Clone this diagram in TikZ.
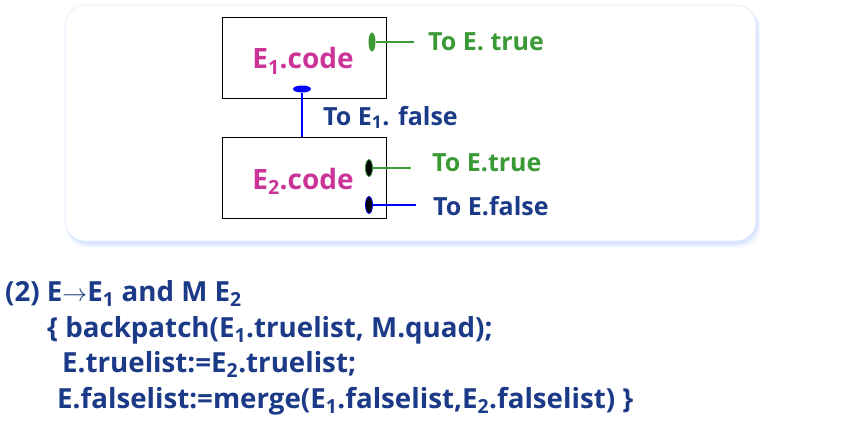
\documentclass[tikz,border=0pt]{standalone}
\usepackage{fontspec}
\setmainfont{Open Sans}
\usetikzlibrary{shapes.geometric}
\definecolor{navy}{HTML}{1B3A87}
\definecolor{leaf}{HTML}{3A9A35}
\definecolor{rose}{HTML}{CC3399}
\definecolor{glow}{HTML}{C9D9FF}
\newcommand{\sbs}[1]{\textsubscript{#1}}
\tikzset{
  codebox/.style={draw=black, line width=1pt, minimum width=164pt, minimum height=81pt, anchor=north west, inner sep=0pt},
  boxlabel/.style={text=rose, font=\bfseries\fontsize{28}{28}\selectfont, anchor=base, inner sep=0pt},
  sidelabel/.style={font=\bfseries\fontsize{25}{25}\selectfont, anchor=base west, inner sep=0pt},
  codeline/.style={text=navy, font=\bfseries\fontsize{27.7}{27.7}\selectfont, anchor=base west, inner sep=0pt},
  vport/.style={ellipse, minimum width=7pt, minimum height=19pt, inner sep=0pt},
  hport/.style={ellipse, minimum width=18pt, minimum height=7pt, inner sep=0pt},
  wire/.style={line width=1.2pt},
}
\begin{document}
\begin{tikzpicture}[x=1pt, y=-1pt]
\useasboundingbox (0,0) rectangle (846,436);
\fill[white] (0,0) rectangle (846,436);
% soft bluish shadow under the panel
\foreach \o/\a in {7/0.08, 5/0.15, 3.5/0.25, 2/0.4}
  \fill[glow, opacity=\a, rounded corners=22pt] (66,6+\o*0.3) rectangle (757+\o*0.6,242+\o);
\fill[white, rounded corners=20pt] (65,5) rectangle (756,241);
\draw[glow!60, line width=0.6pt, rounded corners=20pt] (65,5) rectangle (756,241);

% the two code blocks
\node[codebox] (b1) at (222,17) {};
\node[codebox] (b2) at (222,137) {};
\node[boxlabel] (l1) at (303,69) {E\sbs{1}.code};
\node[boxlabel] (l2) at (303,189) {E\sbs{2}.code};

% exits of the blocks
\node[vport, fill=leaf] (p1t) at (372,42) {};
\node[hport, fill=blue] (p1f) at (302,89) {};
\node[vport, fill=black, draw=leaf, line width=0.8pt, minimum height=17pt] (p2t) at (369,168) {};
\node[vport, fill=black, draw=blue, line width=0.8pt, minimum height=17pt] (p2f) at (369,205) {};

\coordinate (c1t) at (414,42);
\coordinate (c2t) at (411,168);
\coordinate (c2f) at (416,205);
\draw[leaf, wire] (p1t.east) -- (c1t);
\draw[blue, wire] (p1f.south) -- (p1f.south |- b2.north);
\draw[leaf, wire] (p2t.east) -- (c2t);
\draw[blue, wire] (p2f.east) -- (c2f);

\node[sidelabel, text=leaf] (t1t) at (428,51) {To E. true};
\node[sidelabel, text=navy] (t1f) at (323,125) {To E\sbs{1}. false};
\node[sidelabel, text=leaf] (t2t) at (432,171) {To E.true};
\node[sidelabel, text=navy] (t2f) at (433,215) {To E.false};

% semantic rule
\node[codeline] (r1) at (5,301) {(2) E$\rightarrow$E\sbs{1} and M E\sbs{2}};
\node[codeline] (r2) at (47,337) {\{ backpatch(E\sbs{1}.truelist, M.quad);};
\node[codeline] (r3) at (62,372) {E.truelist:=E\sbs{2}.truelist;};
\node[codeline] (r4) at (57,408) {E.falselist:=merge(E\sbs{1}.falselist,E\sbs{2}.falselist) \}};
\end{tikzpicture}
\end{document}
